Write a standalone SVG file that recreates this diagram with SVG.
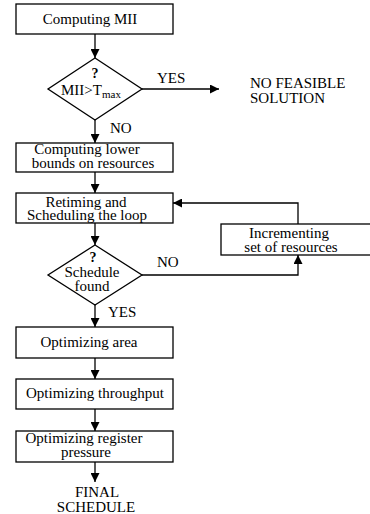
<svg xmlns="http://www.w3.org/2000/svg" width="370" height="514" viewBox="0 0 370 514" font-family="'Liberation Serif', 'Times New Roman', 'DejaVu Serif', serif">
<defs>
<marker id="ah" viewBox="0 0 10 10" refX="10" refY="5" markerWidth="9" markerHeight="9" markerUnits="userSpaceOnUse" orient="auto">
<path d="M0,0 L10,5 L0,10 z" fill="#000"/>
</marker>
</defs>
<style>
text{font-family:'Liberation Serif','Times New Roman',serif;font-size:15px;fill:#000}
.m{text-anchor:middle}
.q{font-weight:bold;font-size:14px}
.sh{fill:#fff;stroke:#000;stroke-width:1.3}
.c{fill:none;stroke:#000;stroke-width:1.3}
</style>
<rect width="370" height="514" fill="#fff"/>
<g id="connectors">
<line class="c" x1="95" y1="34" x2="95" y2="58" marker-end="url(#ah)"/>
<line class="c" x1="142" y1="89" x2="219" y2="89" marker-end="url(#ah)"/>
<line class="c" x1="95" y1="120" x2="95" y2="143" marker-end="url(#ah)"/>
<line class="c" x1="95" y1="172" x2="95" y2="193" marker-end="url(#ah)"/>
<line class="c" x1="95" y1="223" x2="95" y2="245" marker-end="url(#ah)"/>
<polyline class="c" points="142,275 298,275 298,255" marker-end="url(#ah)"/>
<polyline class="c" points="298,224 298,203 173,203" marker-end="url(#ah)"/>
<line class="c" x1="95" y1="305" x2="95" y2="327" marker-end="url(#ah)"/>
<line class="c" x1="95" y1="358" x2="95" y2="379" marker-end="url(#ah)"/>
<line class="c" x1="95" y1="409" x2="95" y2="431" marker-end="url(#ah)"/>
<line class="c" x1="95" y1="462" x2="95" y2="482" marker-end="url(#ah)"/>
<text x="157" y="83">YES</text>
<text x="110" y="133">NO</text>
<text x="157" y="267">NO</text>
<text x="108" y="317">YES</text>
</g>
<g id="n1">
<rect class="sh" x="16" y="4" width="157" height="30"/>
<text class="m" x="90" y="24">Computing MII</text>
</g>
<g id="d1">
<polygon class="sh" points="95,58 142,89 95,120 48,89"/>
<text class="m q" x="95" y="78">?</text>
<text x="61" y="95">MII&gt;T<tspan font-size="11" dy="3">max</tspan></text>
</g>
<g id="nofeasible">
<text x="250" y="88">NO FEASIBLE</text>
<text x="250" y="103">SOLUTION</text>
</g>
<g id="n2">
<rect class="sh" x="16" y="143" width="157" height="29"/>
<text class="m" x="87" y="154">Computing lower</text>
<text class="m" x="93" y="168">bounds on resources</text>
</g>
<g id="n3">
<rect class="sh" x="16" y="193" width="157" height="30"/>
<text class="m" x="86" y="207">Retiming and</text>
<text class="m" x="87" y="220">Scheduling the loop</text>
</g>
<g id="d2">
<polygon class="sh" points="95,245 142,275 95,305 48,275"/>
<text class="m q" x="93" y="262">?</text>
<text class="m" x="92" y="277">Schedule</text>
<text class="m" x="92" y="291">found</text>
</g>
<g id="n4">
<rect class="sh" x="221" y="224" width="160" height="31"/>
<text class="m" x="289" y="238">Incrementing</text>
<text class="m" x="291" y="252">set of resources</text>
</g>
<g id="n5">
<rect class="sh" x="16" y="327" width="157" height="31"/>
<text class="m" x="89" y="347">Optimizing area</text>
</g>
<g id="n6">
<rect class="sh" x="16" y="379" width="157" height="30"/>
<text class="m" x="95" y="398">Optimizing throughput</text>
</g>
<g id="n7">
<rect class="sh" x="16" y="431" width="157" height="31"/>
<text class="m" x="84" y="443">Optimizing register</text>
<text class="m" x="86" y="457">pressure</text>
</g>
<g id="final">
<text class="m" x="97" y="497">FINAL</text>
<text class="m" x="96" y="512">SCHEDULE</text>
</g>
</svg>
